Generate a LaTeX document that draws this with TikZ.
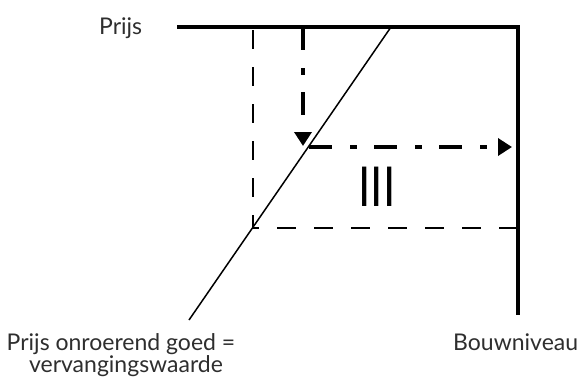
\documentclass[tikz,border=0pt]{standalone}
\usepackage{fontspec}
\setmainfont{Lato}
\usetikzlibrary{arrows.meta}
\begin{document}
\begin{tikzpicture}[x=1pt,y=-1pt,
  axis/.style={line width=3.5pt,line join=miter,line cap=butt},
  guide/.style={line width=1.4pt,dash pattern=on 19pt off 18pt},
  diag/.style={line width=1.5pt},
  flow/.style={line width=4.5pt,dash pattern=on 23pt off 18pt on 7pt off 17pt,
    -{Triangle[length=14pt,width=17pt]}},
  lbl/.style={inner sep=0pt,font=\fontsize{23}{23}\selectfont,text=black!82}]
\useasboundingbox (0,0) rectangle (582,381);
\coordinate (tl) at (177,27);
\coordinate (tr) at (518,27);
\coordinate (br) at (518,315);
\coordinate (dtop) at (253,30);
\coordinate (dcorner) at (253,228);
\coordinate (dright) at (518,228);
\coordinate (ltop) at (391,27);
\coordinate (lbot) at (189,320);
\coordinate (vstart) at (303,27);
\coordinate (vend) at (303,146);
\coordinate (hstart) at (309,147);
\coordinate (hend) at (512,147);
\draw[axis] (tl) -- (tr) -- (br);
\draw[guide] (dtop) -- (dcorner) -- (dright);
\draw[diag] (ltop) -- (lbot);
\draw[flow] (vstart) -- (vend);
\draw[flow] (hstart) -- (hend);
\node[lbl,anchor=base west] (prijs) at (99,34) {Prijs};
\node[lbl,anchor=base west] (bouw) at (453,350) {Bouwniveau};
\node[lbl,anchor=base] (pog1) at (121,350) {Prijs onroerend goed =};
\node[lbl,anchor=base] (pog2) at (126,372) {vervangingswaarde};
\node[inner sep=0pt] (iii) at (377,187) {\scalebox{1}[1.25]{\fontsize{44}{44}\selectfont III}};
\end{tikzpicture}
\end{document}
